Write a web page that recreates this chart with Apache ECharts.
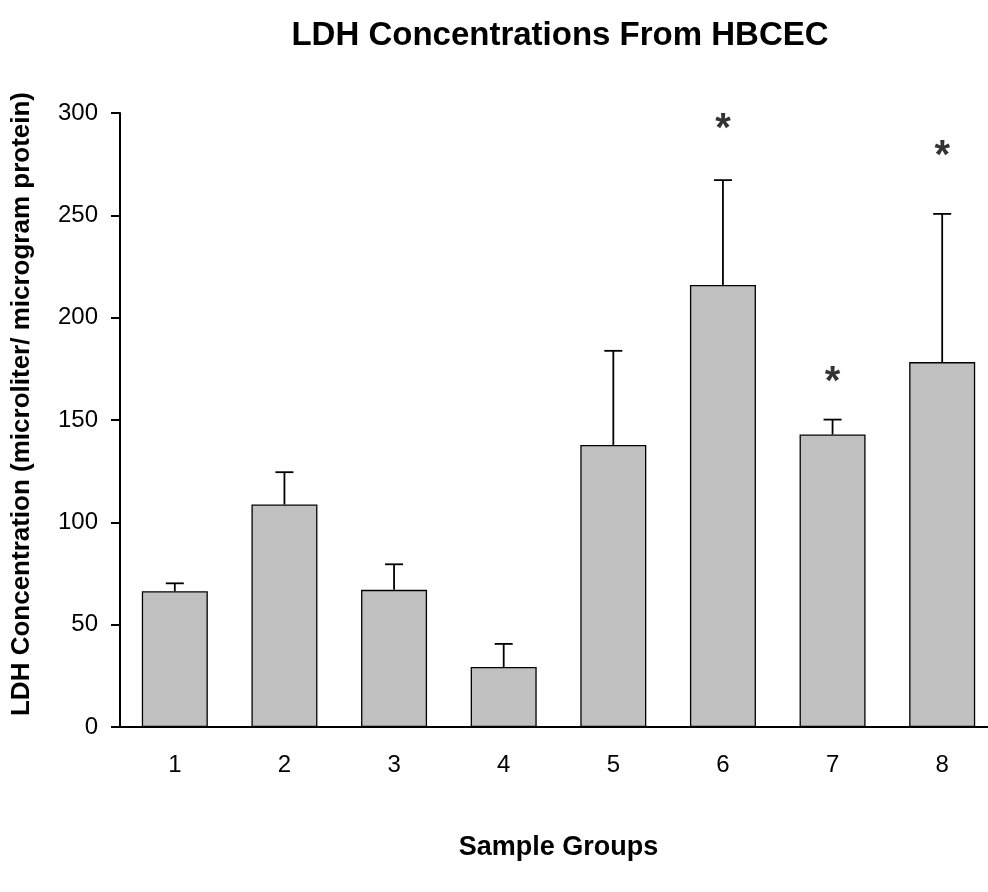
<!DOCTYPE html>
<html>
<head>
<meta charset="utf-8">
<script src="https://cdn.jsdelivr.net/npm/echarts@6/dist/echarts.min.js"></script>
<style>
  html, body { margin: 0; padding: 0; background: #fff; }
  #chart { width: 988px; height: 892px; }
</style>
</head>
<body>
<div id="chart"></div>
<script>
// sample groups and LDH values
const groups = ['1', '2', '3', '4', '5', '6', '7', '8']
const means = [66.3, 108.7, 67.0, 29.3, 137.8, 216.0, 142.9, 178.3]
const errors = [3.9, 15.8, 12.5, 11.3, 46.0, 51.2, 7.3, 72.4]
// significance markers (*) above groups 6, 7, 8
const sigGroups = ['6', '7', '8']
const sigLevels = [294.6, 171.0, 281.5]
const yTicks = [0, 50, 100, 150, 200, 250, 300]

const font = '"Liberation Sans", Arial, sans-serif'
const chart = echarts.init(document.getElementById('chart'))

chart.setOption({
  animation: false,
  backgroundColor: '#fff',
  title: {
    text: 'LDH Concentrations From HBCEC',
    left: 555,
    textAlign: 'center',
    top: 14,
    textStyle: { fontFamily: font, fontSize: 33, fontWeight: 'bold', color: '#000' }
  },
  grid: { left: 120, right: -9, top: 113, bottom: 165, outerBoundsMode: 'none' },
  xAxis: {
    type: 'category',
    data: groups,
    name: 'Sample Groups',
    nameLocation: 'middle',
    nameGap: 107,
    nameTextStyle: { fontFamily: font, fontSize: 27, fontWeight: 'bold', color: '#000' },
    axisLine: { lineStyle: { color: '#000', width: 2 } },
    axisTick: { alignWithLabel: true, length: 8, lineStyle: { color: '#000', width: 2 } },
    axisLabel: { fontFamily: font, fontSize: 24, color: '#000', margin: 26 }
  },
  yAxis: {
    type: 'value',
    min: yTicks[0],
    max: yTicks[yTicks.length - 1],
    interval: 50,
    name: 'LDH Concentration (microliter/ microgram protein)',
    nameLocation: 'middle',
    nameGap: 85,
    nameTextStyle: {
      fontFamily: font, fontSize: 26, fontWeight: 'bold', color: '#000',
      padding: [0, 0, 0, 32]
    },
    splitLine: { show: false },
    axisLine: { show: true, lineStyle: { color: '#000', width: 2 } },
    axisTick: { show: true, length: 9, lineStyle: { color: '#000', width: 2 } },
    axisLabel: { fontFamily: font, fontSize: 24, color: '#000', margin: 22 }
  },
  series: [
    {
      type: 'bar',
      data: means,
      barWidth: 66,
      itemStyle: { color: '#c0c0c0', borderColor: '#000', borderWidth: 1.3 },
      z: 2
    },
    {
      // error bars (upper only)
      type: 'custom',
      data: means.map((m, i) => [i, m, m + errors[i]]),
      renderItem: function (params, api) {
        const base = api.coord([api.value(0), api.value(1)])
        const top = api.coord([api.value(0), api.value(2)])
        const x = base[0]
        const style = { stroke: '#000', lineWidth: 1.8 }
        return {
          type: 'group',
          children: [
            { type: 'line', shape: { x1: x, y1: base[1], x2: x, y2: top[1] }, style: style },
            { type: 'line', shape: { x1: x - 9, y1: top[1], x2: x + 9, y2: top[1] }, style: style }
          ]
        }
      },
      z: 3
    },
    {
      type: 'scatter',
      data: sigGroups.map((g, i) => [g, sigLevels[i]]),
      symbolSize: 0,
      label: {
        show: true,
        position: 'inside',
        formatter: '*',
        fontFamily: font,
        fontSize: 40,
        fontWeight: 'bold',
        color: '#000',
        offset: [0, 6]
      },
      z: 4
    }
  ]
})
</script>
</body>
</html>
